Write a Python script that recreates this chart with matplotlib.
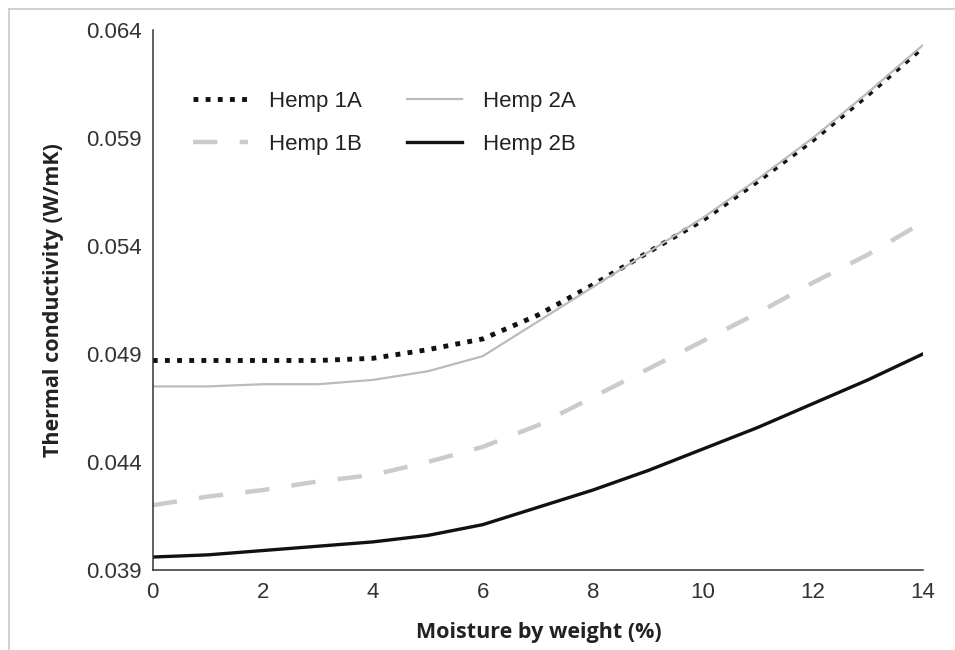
import matplotlib
matplotlib.use("Agg")
import matplotlib.pyplot as plt
from matplotlib.lines import Line2D

# ─── data ───────────────────────────────────────────────────────────────────
moisture = [0, 1, 2, 3, 4, 5, 6, 7, 8, 9, 10, 11, 12, 13, 14]

hemp_1a = [0.0487, 0.0487, 0.0487, 0.0487, 0.0488, 0.0492, 0.0497, 0.0508,
           0.0522, 0.0537, 0.0552, 0.0570, 0.0589, 0.0610, 0.0632]
hemp_2a = [0.0475, 0.0475, 0.0476, 0.0476, 0.0478, 0.0482, 0.0489, 0.0505,
           0.0521, 0.0537, 0.0553, 0.0571, 0.0590, 0.0611, 0.0633]
hemp_1b = [0.0420, 0.0424, 0.0427, 0.0431, 0.0434, 0.0440, 0.0447, 0.0457,
           0.0470, 0.0483, 0.0496, 0.0509, 0.0523, 0.0536, 0.0551]
hemp_2b = [0.0396, 0.0397, 0.0399, 0.0401, 0.0403, 0.0406, 0.0411, 0.0419,
           0.0427, 0.0436, 0.0446, 0.0456, 0.0467, 0.0478, 0.0490]

x_ticks = [0, 2, 4, 6, 8, 10, 12, 14]
y_ticks = [0.039, 0.044, 0.049, 0.054, 0.059, 0.064]
y_tick_labels = ["0.039", "0.044", "0.049", "0.054", "0.059", "0.064"]

TICK_FONT  = ["Liberation Sans Narrow", "Liberation Sans", "DejaVu Sans"]
LABEL_FONT = ["Open Sans", "Liberation Sans", "DejaVu Sans"]
TEXT_FONT  = ["Liberation Sans", "DejaVu Sans"]

fig = plt.figure(figsize=(9.55, 6.5), dpi=100)
ax = fig.add_axes([0.160, 0.1231, 0.8063, 0.8307])

# outer frame of the original screenshot (top + left only)
fig.add_artist(Line2D([0.009, 0.009], [0.0, 0.986], color="#c8c8c8", lw=1.2))
fig.add_artist(Line2D([0.009, 1.0], [0.986, 0.986], color="#c8c8c8", lw=1.2))

l1a, = ax.plot(moisture, hemp_1a, color="#111111", lw=3.5,
               linestyle=(0, (1, 1.5)), dash_capstyle="butt", label="Hemp 1A")
l1b, = ax.plot(moisture, hemp_1b, color="#cdcbc9", lw=3.2,
               linestyle=(0, (5.5, 5)), dash_capstyle="butt", label="Hemp 1B")
l2a, = ax.plot(moisture, hemp_2a, color="#bdbab8", lw=1.6, label="Hemp 2A")
l2b, = ax.plot(moisture, hemp_2b, color="#111111", lw=2.4, label="Hemp 2B")

ax.set_xlim(0, 14)
ax.set_ylim(0.039, 0.064)
ax.set_xticks(x_ticks)
ax.set_yticks(y_ticks)
ax.set_yticklabels(y_tick_labels)
ax.tick_params(length=0, labelsize=16, labelcolor="#333333")
ax.tick_params(axis="y", pad=8)
ax.tick_params(axis="x", pad=9)
for lab in ax.get_xticklabels() + ax.get_yticklabels():
    lab.set_family(TICK_FONT)

for side in ("top", "right"):
    ax.spines[side].set_visible(False)
for side in ("left", "bottom"):
    ax.spines[side].set_color("#333333")
    ax.spines[side].set_linewidth(1.1)

ax.set_xlabel("Moisture by weight (%)", fontsize=15.5, fontweight="bold",
              family=LABEL_FONT, color="#222222")
ax.set_ylabel("Thermal conductivity (W/mK)", fontsize=15.5, fontweight="bold",
              family=LABEL_FONT, color="#222222")
ax.xaxis.set_label_coords(0.501, -0.096)
ax.yaxis.set_label_coords(-0.115, 0.5)

leg = ax.legend(handles=[l1a, l1b, l2a, l2b], ncol=2, frameon=False,
                loc="upper left", bbox_to_anchor=(0.026, 0.925),
                prop={"family": TEXT_FONT, "size": 16},
                handlelength=2.5, handletextpad=0.95, columnspacing=2.0,
                labelspacing=1.0)
for t in leg.get_texts():
    t.set_color("#222222")

fig.savefig("out.png", dpi=100)
